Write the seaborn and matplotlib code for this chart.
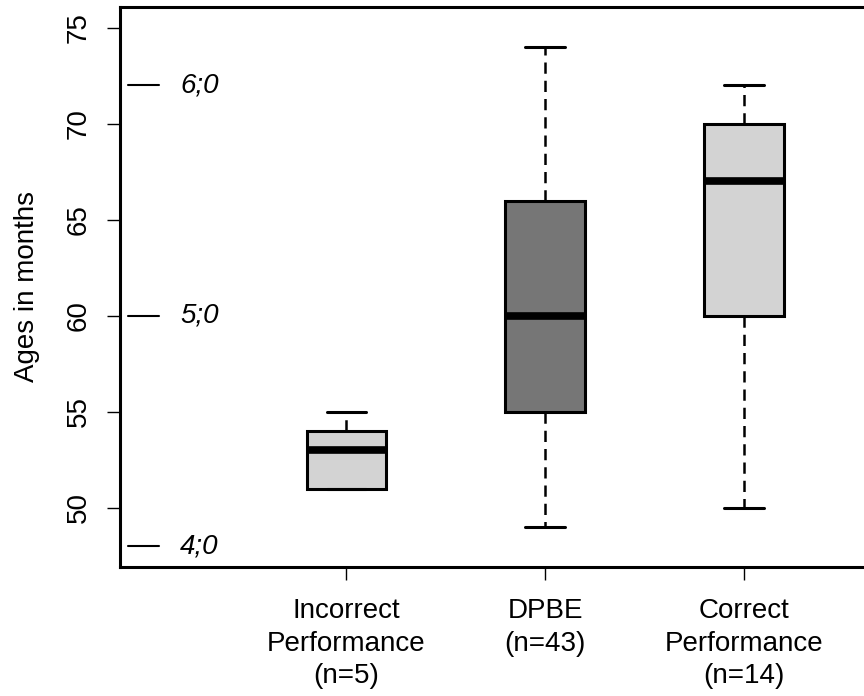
import numpy as np
import pandas as pd
import seaborn as sns
import matplotlib
matplotlib.use("Agg")
import matplotlib.pyplot as plt
import matplotlib.transforms as mtransforms

# five-number summaries (min, Q1, median, Q3, max)
groups = ["Incorrect\nPerformance\n(n=5)", "DPBE\n(n=43)", "Correct\nPerformance\n(n=14)"]
incorrect_ages = [51, 51, 53, 54, 55]
dpbe_ages = [49, 55, 60, 66, 74]
correct_ages = [50, 60, 67, 70, 72]
box_colors = ["#d3d3d3", "#767676", "#d3d3d3"]

# year;month reference marks
year_marks = [48, 60, 72]
year_labels = ["4;0", "5;0", "6;0"]
y_ticks = [50, 55, 60, 65, 70, 75]

sns.set_style("white")
plt.rcParams['font.family'] = ['Liberation Sans', 'DejaVu Sans']
plt.rcParams['text.color'] = 'black'
plt.rcParams['axes.labelcolor'] = 'black'
plt.rcParams['xtick.color'] = 'black'
plt.rcParams['ytick.color'] = 'black'

df = pd.DataFrame({
    'group': [groups[0]] * len(incorrect_ages) + [groups[1]] * len(dpbe_ages) + [groups[2]] * len(correct_ages),
    'age': incorrect_ages + dpbe_ages + correct_ages,
})

fig = plt.figure(figsize=(8.64, 6.96), dpi=100)
ax = fig.add_axes([120 / 864, 129 / 696, 751 / 864, 560 / 696])

sns.boxplot(data=df, x='group', y='age', hue='group', order=groups, hue_order=groups,
            palette=box_colors, legend=False, width=0.4, linewidth=2.2, linecolor='black',
            whis=1.5, fliersize=0, saturation=1, ax=ax,
            medianprops=dict(linewidth=5.5, color='black', solid_capstyle='butt'),
            whiskerprops=dict(linewidth=1.8, linestyle=(0, (4.5, 2.8))),
            capprops=dict(linewidth=2.2))

ax.set_xlim(-1.14, 2.64)
ax.set_ylim(46.92, 76.08)
ax.set_yticks(y_ticks)
ax.set_yticklabels([str(t) for t in y_ticks], rotation=90, va='center', fontsize=20)
ax.set_xticks(range(len(groups)))
ax.set_xticklabels(groups, fontsize=20, linespacing=1.32)
ax.tick_params(axis='both', direction='out', length=9.5, width=1.0, pad=11,
               color='black', labelcolor='black', left=True, bottom=True)
ax.tick_params(axis='x', pad=13)
ax.set_xlabel('')
ax.set_ylabel('Ages in months', fontsize=20, color='black')
ax.yaxis.set_label_coords(-0.107, 0.5)

for s in ax.spines.values():
    s.set_visible(True)
    s.set_linewidth(2.2)
    s.set_color('black')

trans = mtransforms.blended_transform_factory(ax.transAxes, ax.transData)
for y, lab in zip(year_marks, year_labels):
    ax.plot([0.0107, 0.052], [y, y], color='black', lw=1.5, transform=trans, clip_on=False)
    ax.text(0.08, y, lab, transform=trans, fontsize=20, style='italic', va='center', ha='left',
            color='black')

fig.savefig('out.png', dpi=100)
